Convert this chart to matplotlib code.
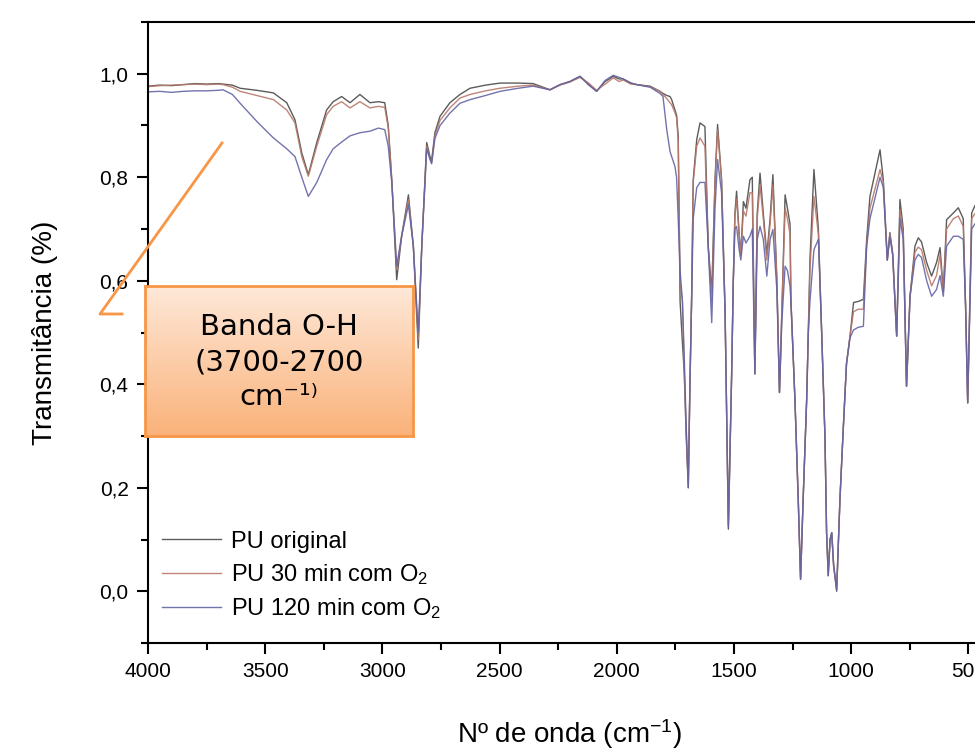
import matplotlib
matplotlib.use('Agg')
import matplotlib.pyplot as plt
import numpy as np
from matplotlib.lines import Line2D
from matplotlib.colors import LinearSegmentedColormap
from matplotlib.ticker import MultipleLocator, FuncFormatter

plt.rcParams['font.family'] = ['Liberation Sans', 'DejaVu Sans']
plt.rcParams['mathtext.default'] = 'regular'

# FTIR spectra (wavenumber in cm-1, transmittance)
wn = [4000, 3950, 3900, 3850, 3800, 3750, 3700, 3680, 3640, 3607,
      3536, 3465, 3408, 3373, 3344, 3316, 3280, 3238, 3210, 3174,
      3138, 3096, 3053, 3017, 2990, 2975, 2960, 2939, 2918, 2889,
      2868, 2847, 2832, 2811, 2797, 2790, 2776, 2754, 2712, 2669,
      2626, 2560, 2498, 2420, 2357, 2285, 2242, 2200, 2157, 2120,
      2086, 2050, 2015, 1990, 1973, 1940, 1915, 1858, 1816, 1803,
      1787, 1773, 1766, 1752, 1745, 1738, 1730, 1720, 1712, 1704,
      1695, 1688, 1681, 1674, 1659, 1645, 1624, 1610, 1595, 1581,
      1570, 1553, 1538, 1524, 1510, 1503, 1496, 1489, 1478, 1471,
      1460, 1449, 1432, 1422, 1411, 1401, 1389, 1375, 1360, 1346,
      1334, 1317, 1306, 1296, 1282, 1272, 1261, 1257, 1240, 1226,
      1216, 1205, 1190, 1183, 1176, 1159, 1140, 1126, 1112, 1105,
      1098, 1090, 1083, 1075, 1062, 1048, 1034, 1020, 1005, 990,
      970, 948, 934, 920, 877, 863, 846, 835, 823, 806,
      792, 778, 764, 749, 728, 714, 700, 678, 657, 636,
      621, 607, 593, 564, 543, 522, 512, 503, 486, 472,
      450, 420, 400]

t_orig = [.976, .978, .977, .979, .981, .980, .981, .980, .978, .972,
          .968, .963, .944, .911, .847, .805, .867, .930, .946, .956,
          .944, .960, .944, .946, .944, .900, .795, .602, .686, .766,
          .667, .470, .667, .867, .840, .832, .886, .918, .944, .960,
          .972, .978, .982, .982, .981, .969, .979, .985, .995, .980,
          .966, .985, .995, .990, .990, .982, .979, .976, .966, .962,
          .958, .956, .950, .930, .920, .880, .560, .480, .420, .300,
          .200, .400, .560, .795, .873, .905, .898, .667, .577, .795,
          .902, .795, .538, .120, .420, .600, .731, .773, .690, .650,
          .753, .740, .795, .800, .420, .730, .808, .730, .650, .720,
          .805, .600, .384, .538, .766, .740, .710, .560, .370, .178,
          .023, .178, .370, .500, .640, .815, .700, .500, .300, .113,
          .030, .100, .113, .050, .000, .178, .313, .440, .493, .558,
          .560, .564, .680, .763, .853, .795, .640, .693, .653, .493,
          .757, .700, .396, .570, .667, .683, .675, .635, .609, .635,
          .664, .580, .718, .731, .741, .720, .550, .364, .731, .745,
          .750, .750, .750]

t_30 = [.975, .977, .978, .979, .980, .979, .980, .979, .974, .966,
        .958, .950, .930, .905, .840, .802, .860, .921, .937, .946,
        .934, .946, .934, .937, .935, .895, .795, .622, .686, .757,
        .667, .486, .667, .860, .835, .828, .880, .910, .934, .953,
        .960, .967, .972, .976, .978, .969, .978, .984, .993, .982,
        .968, .980, .992, .985, .988, .980, .979, .975, .966, .960,
        .952, .944, .940, .925, .915, .870, .600, .560, .420, .310,
        .210, .400, .560, .790, .860, .876, .860, .667, .560, .790,
        .892, .795, .538, .130, .420, .600, .725, .758, .690, .650,
        .735, .725, .770, .770, .420, .720, .785, .720, .640, .710,
        .785, .600, .384, .538, .740, .720, .690, .560, .370, .178,
        .025, .178, .370, .500, .620, .763, .690, .500, .300, .113,
        .040, .100, .113, .050, .005, .178, .313, .440, .493, .540,
        .545, .545, .670, .740, .815, .790, .640, .690, .650, .493,
        .738, .690, .396, .570, .655, .665, .660, .620, .590, .610,
        .650, .580, .700, .720, .725, .705, .550, .364, .720, .730,
        .735, .735, .735]

t_120 = [.965, .966, .964, .966, .967, .967, .968, .969, .960, .943,
         .908, .876, .855, .840, .800, .763, .790, .834, .855, .868,
         .880, .886, .889, .895, .892, .860, .790, .628, .686, .747,
         .667, .500, .667, .855, .835, .826, .875, .900, .924, .943,
         .950, .958, .966, .972, .976, .969, .979, .985, .995, .978,
         .966, .987, .997, .993, .990, .982, .979, .974, .962, .956,
         .892, .850, .840, .821, .800, .720, .620, .560, .450, .320,
         .200, .400, .560, .720, .780, .790, .790, .667, .519, .740,
         .834, .770, .538, .125, .420, .600, .700, .705, .660, .640,
         .686, .673, .686, .700, .420, .680, .705, .680, .609, .680,
         .699, .580, .384, .520, .628, .620, .589, .560, .370, .178,
         .023, .178, .370, .500, .560, .660, .680, .500, .300, .113,
         .030, .100, .113, .050, .003, .178, .313, .440, .490, .505,
         .510, .512, .667, .720, .800, .780, .640, .685, .650, .493,
         .720, .680, .396, .570, .640, .651, .645, .600, .570, .583,
         .610, .570, .667, .686, .686, .680, .550, .364, .700, .710,
         .715, .715, .715]

labels = ['PU original', 'PU 30 min com O$_2$', 'PU 120 min com O$_2$']
colors = ['#4a4a4a', '#b8786a', '#6464a4']

fig = plt.figure(figsize=(9.75, 7.55), dpi=100)
ax = fig.add_axes([148 / 975, 112 / 755, 3600 * 0.2344 / 975, 621 / 755])

for t, lab, c in zip([t_orig, t_30, t_120], labels, colors):
    ax.plot(wn, t, color=c, linewidth=1.0, alpha=0.9, label=lab)

ax.set_xlim(4000, 400)
ax.set_ylim(-0.1, 1.1)
ax.xaxis.set_major_locator(MultipleLocator(500))
ax.xaxis.set_minor_locator(MultipleLocator(250))
ax.yaxis.set_major_locator(MultipleLocator(0.2))
ax.yaxis.set_minor_locator(MultipleLocator(0.1))
ax.yaxis.set_major_formatter(FuncFormatter(lambda v, p: f'{v:.1f}'.replace('.', ',')))

ax.tick_params(which='major', direction='out', length=8, width=1.5,
               labelsize=15, pad=6, top=False, right=False)
ax.tick_params(which='minor', direction='out', length=5, width=1.5,
               top=False, right=False)
for s in ax.spines.values():
    s.set_linewidth(1.5)

ax.set_ylabel('Transmitância (%)', fontsize=20, labelpad=30)
ax.set_xlabel('Nº de onda (cm$^{-1}$)', fontsize=20, labelpad=26)

leg = ax.legend(loc='lower left', frameon=False, fontsize=17,
                handlelength=2.5, handletextpad=0.4, labelspacing=0.4,
                borderaxespad=0.2, bbox_to_anchor=(0.0, 0.012))

# callout box for the O-H band
box = fig.add_axes([145 / 975, 1 - 436 / 755, 268 / 975, 150 / 755], zorder=5)
grad = LinearSegmentedColormap.from_list('peach', ['#fee8d8', '#fab27a'])
box.imshow(np.linspace(0, 1, 100).reshape(-1, 1), aspect='auto', cmap=grad,
           extent=[0, 1, 0, 1], origin='upper')
box.set_xticks([])
box.set_yticks([])
for s in box.spines.values():
    s.set_color('#f79646')
    s.set_linewidth(2)

cx = 279 / 975
for txt, y in [('Banda O-H', 327), ('(3700-2700', 363), ('cm⁻¹⁾', 397)]:
    fig.text(cx, 1 - y / 755, txt, ha='center', va='center', fontsize=21,
             family=['DejaVu Sans'], zorder=6)

fig.add_artist(Line2D([222 / 975, 100 / 975, 122 / 975],
                      [1 - 143 / 755, 1 - 314 / 755, 1 - 314 / 755],
                      color='#f79646', linewidth=2, transform=fig.transFigure))

fig.savefig('out.png', dpi=100)
